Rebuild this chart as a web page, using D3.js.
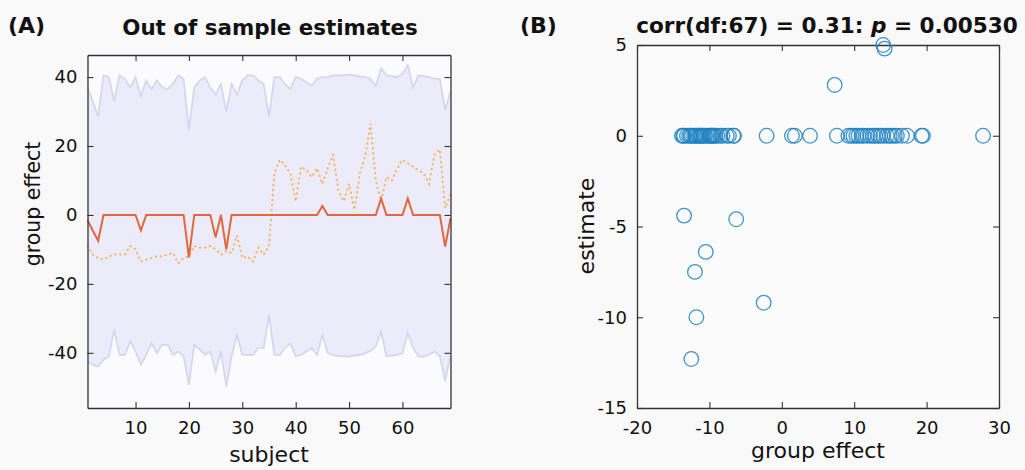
<!DOCTYPE html>
<html><head><meta charset="utf-8">
<script src="https://cdn.jsdelivr.net/npm/d3@7"></script>
<style>
html,body{margin:0;padding:0;background:#f9f9f9;}
svg{display:block;}
text{font-family:"DejaVu Sans",sans-serif;fill:#111;}
</style></head>
<body><svg id="c" width="1025" height="470"></svg>
<script>
// ---------- DATA ----------
const subjects = d3.range(1, 70);
const bandUpper = [37,33,28.5,40.5,40,33,40.5,39.5,37,40,34.5,39,36.5,39,37,36.5,38,40.5,39.5,24.6,
  37,39,40,37,35,38,30,38,35,39,40.5,40.5,39,38,28.5,40,40,38,36.5,40,
  39.5,38.5,37.5,39.5,40,40,40.5,40.5,40.5,40.7,40.5,40.2,40,39.5,37.5,42.5,40.5,40.3,40,41,
  43.5,37,40.5,40.3,40,39.5,39.5,30.5,36];
const bandLower = [-42.5,-43.5,-44,-42,-41,-33.3,-40.6,-40.6,-36.7,-39.6,-43.5,-40.6,-37.2,-40,-37.7,-37.7,-40.6,-39.6,-41,-49.3,
  -37.7,-39,-40.6,-39.6,-45.4,-39.6,-49.8,-41,-34.8,-40.6,-40.6,-40.6,-38.6,-38.6,-29,-40.6,-40.6,-38.6,-37.2,-41,
  -40.6,-39.6,-38.6,-40.6,-34.8,-40.1,-40.6,-41,-41,-41.1,-40.8,-40.6,-40.1,-39.5,-38.2,-33.8,-41,-40.8,-40.6,-40.1,
  -34.3,-38.6,-41.1,-41.1,-40.5,-39.6,-41,-48.3,-40.6];
const estimate = [-1.5,-4.6,-7.5,0,0,0,0,0,0,0,-4.5,0,0,0,0,0,0,0,0,-12.3,
  0,0,0,0,-6.5,0,-10,0,0,0,0,0,0,0,0,0,0,0,0,0,
  0,0,0,0,2.6,0,0,0,0,0,0,0,0,0,0,4.8,0,0,0,0,
  4.8,0,0,0,0,0,0,-9.2,-1];
const groupEffect = [-9,-11.5,-12.5,-13,-12,-11.5,-11.5,-11.5,-9,-10,-13.5,-13,-12.5,-12,-12,-11.5,-11,-14,-12.5,-12,
  -9,-9.5,-9.5,-9,-10,-11.5,-10.5,-11,-6,-12.5,-12,-13.5,-9.5,-11.5,-9,12,16,14.5,12,4,
  14,13,11,13.5,9,13.5,17.5,7,4,9,1.5,12,17,26.5,10,4,11,10,13.5,16,
  15,14,13,12,9,17.5,19,2,6];

// scatter panel (B)
const scatterX = [-13.8,-13.5,-13.1,-12.8,-12.4,-12.1,-11.8,-11.5,-11.3,-11,-10.6,-10.3,-9.9,-9.6,-9.2,-8.9,-8.5,-8.2,-7.6,-7.3,-6.7,-6.6,-13.6,-12.6,-11.9,-10.8,-10,-9.4,
  -2.1,1.4,1.8,3.9,7.6,9.2,9.6,9.9,10.3,10.6,11,11.3,11.8,12.2,12.6,12.9,13.3,13.6,14,14.5,14.9,15.2,15.6,15.9,16.6,17.3,19.3,19.5,27.8,
  -13.5,-6.3,-10.5,-12,-2.5,-11.8,-12.5,7.3,14,14.2,-11.2,-9.7];
const scatterY = [0,0,0,0,0,0,0,0,0,0,0,0,0,0,0,0,0,0,0,0,0,0,0,0,0,0,0,0,
  0,0,0,0,0,0,0,0,0,0,0,0,0,0,0,0,0,0,0,0,0,0,0,0,0,0,0,0,0,
  -4.4,-4.6,-6.4,-7.5,-9.2,-10,-12.3,2.8,5,4.8,0,0];

const xTicksA = [10,20,30,40,50,60];
const yTicksA = [-40,-20,0,20,40];
const xTicksB = [-20,-10,0,10,20,30];
const yTicksB = [-15,-10,-5,0,5];

// ---------- DRAW ----------
const svg = d3.select("#c");
const axisColor = "#333";
const fmt = d => String(d);

function boxAxes(g, x, y, xt, yt) {
  const [x0, x1] = x.range(), [y0, y1] = y.range();
  g.append("g").attr("transform", `translate(0,${y0})`)
    .call(d3.axisBottom(x).tickValues(xt).tickSizeInner(-6).tickSizeOuter(0).tickPadding(13).tickFormat(fmt));
  g.append("g").attr("transform", `translate(0,${y1})`)
    .call(d3.axisTop(x).tickValues(xt).tickSizeInner(-6).tickSizeOuter(0).tickFormat(""));
  g.append("g").attr("transform", `translate(${x0},0)`)
    .call(d3.axisLeft(y).tickValues(yt).tickSizeInner(-6).tickSizeOuter(0).tickPadding(10).tickFormat(fmt));
  g.append("g").attr("transform", `translate(${x1},0)`)
    .call(d3.axisRight(y).tickValues(yt).tickSizeInner(-6).tickSizeOuter(0).tickFormat(""));
  g.selectAll(".domain").attr("stroke", axisColor).attr("stroke-width", 1.3);
  g.selectAll(".tick line").attr("stroke", axisColor).attr("stroke-width", 1.1);
  g.selectAll(".tick text").attr("font-size", 18).attr("font-family", "DejaVu Sans").attr("fill", "#111");
}

// Panel A
const xA = d3.scaleLinear().domain([1, 69]).range([87.5, 450.5]);
const yA = d3.scaleLinear().domain([-56, 46.4]).range([408, 55]);
const gA = svg.append("g");
gA.append("rect").attr("x", 87.5).attr("y", 55).attr("width", 363).attr("height", 353).attr("fill", "#fbfbfd");
const area = d3.area().x((d, i) => xA(subjects[i])).y0((d, i) => yA(bandLower[i])).y1((d, i) => yA(bandUpper[i]));
gA.append("path").datum(subjects).attr("d", area).attr("fill", "#ebebf9");
const lineU = d3.line().x((d, i) => xA(subjects[i])).y(d => yA(d));
gA.append("path").datum(bandUpper).attr("d", lineU).attr("fill", "none").attr("stroke", "#d3d5ee").attr("stroke-width", 1.6);
gA.append("path").datum(bandLower).attr("d", lineU).attr("fill", "none").attr("stroke", "#d3d5ee").attr("stroke-width", 1.6);
gA.append("path").datum(groupEffect).attr("d", lineU).attr("fill", "none").attr("stroke", "#f3b56c")
  .attr("stroke-width", 2).attr("stroke-dasharray", "0.5,4.5").attr("stroke-linecap", "round");
gA.append("path").datum(estimate).attr("d", lineU).attr("fill", "none").attr("stroke", "#e0673f").attr("stroke-width", 2);
boxAxes(gA, xA, yA, xTicksA, yTicksA);

gA.append("text").attr("x", 270).attr("y", 35).attr("text-anchor", "middle").attr("font-size", 21.4).attr("font-weight", "bold").text("Out of sample estimates");
gA.append("text").attr("x", 269).attr("y", 462).attr("text-anchor", "middle").attr("font-size", 22).text("subject");
gA.append("text").attr("transform", "translate(40,204) rotate(-90)").attr("text-anchor", "middle").attr("font-size", 20.5).text("group effect");
svg.append("text").attr("x", 8).attr("y", 33).attr("font-size", 22).attr("font-weight", "bold").text("(A)");

// Panel B
const xB = d3.scaleLinear().domain([-20, 30]).range([637, 999]);
const yB = d3.scaleLinear().domain([-15, 5]).range([408, 45]);
const gB = svg.append("g");
gB.append("rect").attr("x", 637).attr("y", 45).attr("width", 362).attr("height", 363).attr("fill", "#fbfbfb");
boxAxes(gB, xB, yB, xTicksB, yTicksB);
gB.append("g").selectAll("circle").data(scatterX).join("circle")
  .attr("cx", d => xB(d)).attr("cy", (d, i) => yB(scatterY[i])).attr("r", 7.3)
  .attr("fill", "none").attr("stroke", "#1f82c2").attr("stroke-width", 1.3).attr("stroke-opacity", 0.85);

const t = gB.append("text").attr("x", 827).attr("y", 33).attr("text-anchor", "middle").attr("font-size", 21.6).attr("font-weight", "bold");
t.append("tspan").text("corr(df:67) = 0.31: ");
t.append("tspan").attr("font-style", "italic").text("p");
t.append("tspan").text(" = 0.00530");
gB.append("text").attr("x", 818).attr("y", 458).attr("text-anchor", "middle").attr("font-size", 22).text("group effect");
gB.append("text").attr("transform", "translate(594,226) rotate(-90)").attr("text-anchor", "middle").attr("font-size", 22).text("estimate");
svg.append("text").attr("x", 520).attr("y", 33).attr("font-size", 22).attr("font-weight", "bold").text("(B)");
</script></body></html>
